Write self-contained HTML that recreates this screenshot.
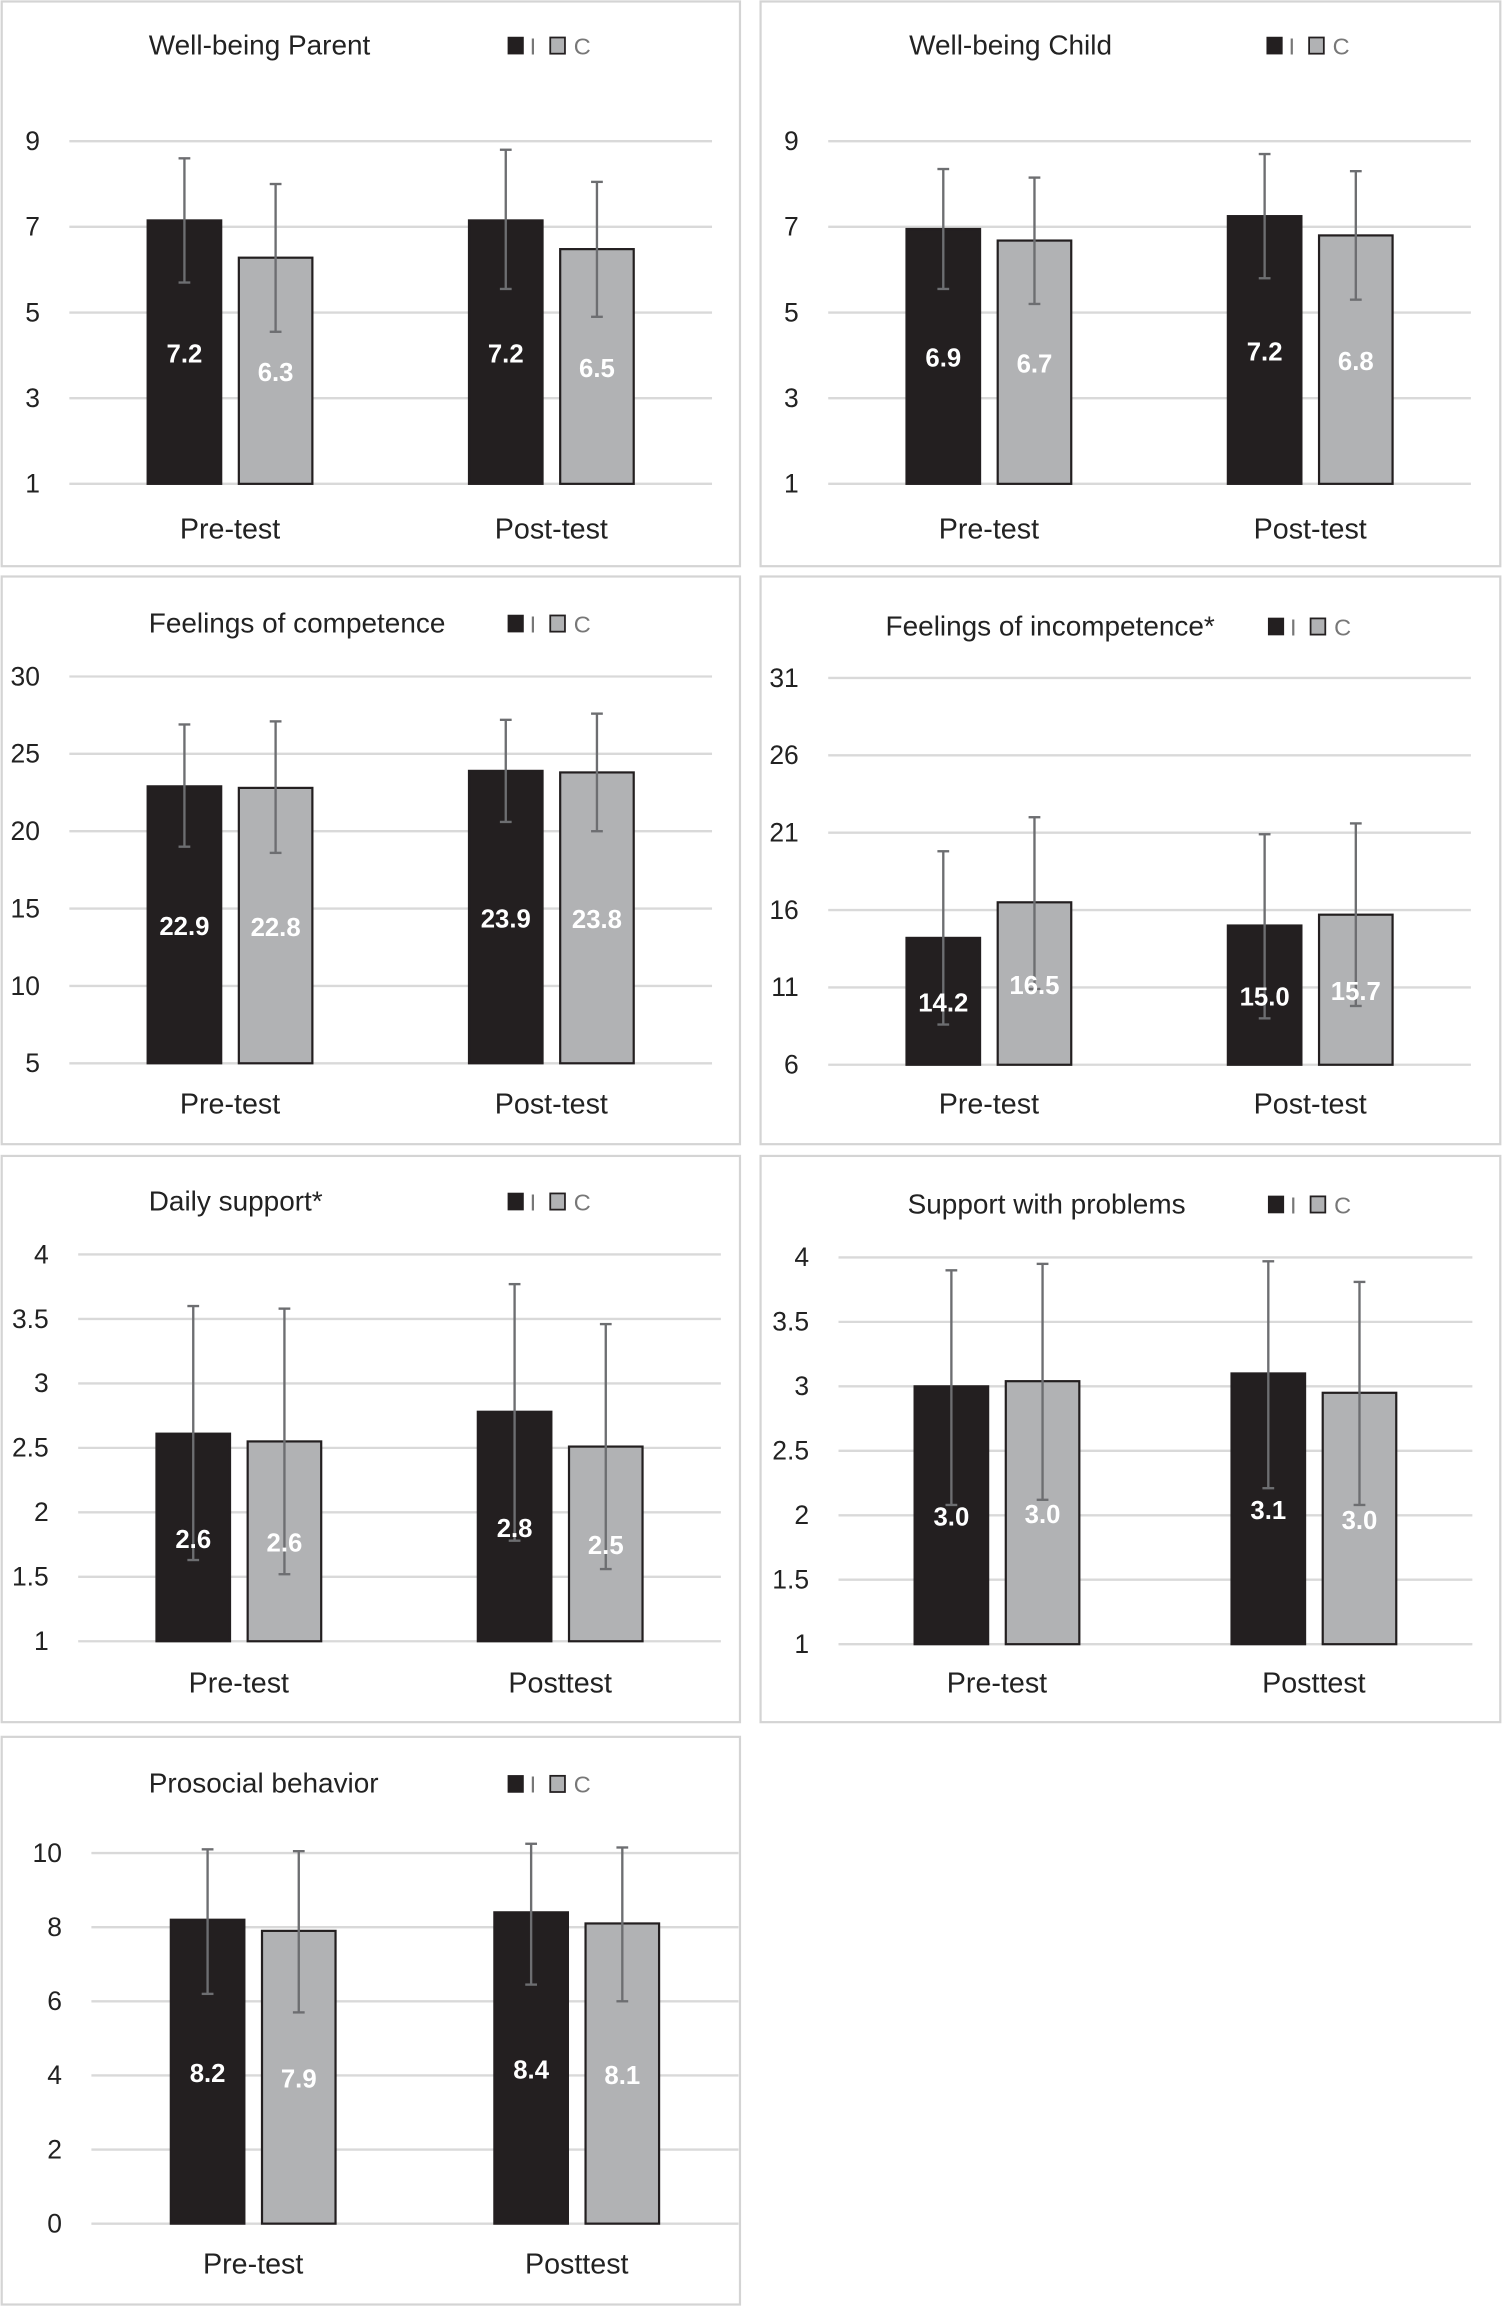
<!DOCTYPE html>
<html><head><meta charset="utf-8"><style>
html,body{margin:0;padding:0;background:#fff;}
svg{display:block;font-family:"Liberation Sans",Arial,sans-serif;}
</style></head><body>
<svg id="fig" width="1502" height="2306" viewBox="0 0 1021 1568" xmlns="http://www.w3.org/2000/svg"></svg>
<script>
const titles=["Well-being Parent","Well-being Child","Feelings of competence","Feelings of incompetence*","Daily support*","Support with problems","Prosocial behavior"];
const categories=[["Pre-test","Post-test"],["Pre-test","Post-test"],["Pre-test","Post-test"],["Pre-test","Post-test"],["Pre-test","Posttest"],["Pre-test","Posttest"],["Pre-test","Posttest"]];
const ticks=[[1,3,5,7,9],[1,3,5,7,9],[5,10,15,20,25,30],[6,11,16,21,26,31],[1,1.5,2,2.5,3,3.5,4],[1,1.5,2,2.5,3,3.5,4],[0,2,4,6,8,10]];
const valuesI=[[7.15,7.15],[6.95,7.25],[22.9,23.9],[14.2,15.0],[2.61,2.78],[3.0,3.1],[8.2,8.4]];
const valuesC=[[6.28,6.48],[6.68,6.8],[22.8,23.8],[16.5,15.7],[2.55,2.51],[3.04,2.95],[7.9,8.1]];
const labelsI=[["7.2","7.2"],["6.9","7.2"],["22.9","23.9"],["14.2","15.0"],["2.6","2.8"],["3.0","3.1"],["8.2","8.4"]];
const labelsC=[["6.3","6.5"],["6.7","6.8"],["22.8","23.8"],["16.5","15.7"],["2.6","2.5"],["3.0","3.0"],["7.9","8.1"]];
const errHiI=[[8.6,8.8],[8.35,8.7],[26.9,27.2],[19.8,20.9],[3.6,3.77],[3.9,3.97],[10.1,10.25]];
const errLoI=[[5.7,5.55],[5.55,5.8],[19.0,20.6],[8.6,9.0],[1.63,1.78],[2.08,2.21],[6.2,6.45]];
const errHiC=[[8.0,8.05],[8.15,8.3],[27.1,27.6],[22.0,21.6],[3.58,3.46],[3.95,3.81],[10.05,10.15]];
const errLoC=[[4.55,4.9],[5.2,5.3],[18.6,20.0],[10.9,9.8],[1.52,1.56],[2.12,2.08],[5.7,6.0]];

const L=[
 {px:1,py:1,pw:502,ph:384,gx0:47,gx1:484,gyT:96,gyB:329,ty:31,tx:101,lx:345},
 {px:517,py:1,pw:503,ph:384,gx0:563,gx1:1000,gyT:96,gyB:329,ty:31,tx:618,lx:861},
 {px:1,py:392,pw:502,ph:386,gx0:47,gx1:484,gyT:460,gyB:723,ty:424,tx:101,lx:345},
 {px:517,py:392,pw:503,ph:386,gx0:563,gx1:1000,gyT:461,gyB:724,ty:426,tx:602,lx:862},
 {px:1,py:786,pw:502,ph:385,gx0:53,gx1:490,gyT:853,gyB:1116,ty:817,tx:101,lx:345},
 {px:517,py:786,pw:503,ph:385,gx0:570,gx1:1001,gyT:855,gyB:1118,ty:819,tx:617,lx:862},
 {px:1,py:1181,pw:502,ph:386,gx0:62,gx1:502,gyT:1260,gyB:1512,ty:1213,tx:101,lx:345}
];
const NS="http://www.w3.org/2000/svg";
const svg=document.getElementById('fig');
function mk(tag,attrs,parent){const e=document.createElementNS(NS,tag);for(const k in attrs)e.setAttribute(k,attrs[k]);parent.appendChild(e);return e;}

titles.forEach((t,i)=>{
 const l=L[i];
 const g=mk('g',{},svg);
 
 
 const border=mk('rect',{x:l.px,y:l.py,width:l.pw,height:l.ph,fill:'#fff',stroke:'#d4d4d4','stroke-width':1.5},g);
 
 
 const tk=ticks[i];const vmin=tk[0],vmax=tk[tk.length-1];
 const y=v=>l.gyB-(v-vmin)/(vmax-vmin)*(l.gyB-l.gyT);
 const band=(l.gx1-l.gx0)/2;
 const cx=k=>l.gx0+band*(k+0.5);
 tk.forEach(v=>{
  const gl=mk('line',{x1:l.gx0,x2:l.gx1,y1:y(v),y2:y(v),stroke:'#d9d9d9','stroke-width':1.6},g);
  
  
  const tl=mk('text',{x:l.gx0-20,y:y(v)+6,'text-anchor':'end','font-size':18,fill:'#222'},g);
  
  
  tl.textContent=String(v);
 });
 const tt=mk('text',{x:l.tx,y:l.ty+6,'font-size':19,fill:'#222'},g);
 
 
 tt.textContent=t;
 const lgI=mk('rect',{x:l.lx,y:l.ty-6,width:11,height:12,fill:'#231f20'},g);
 
 
 const lgIt=mk('text',{x:l.lx+15,y:l.ty+6,'font-size':16,fill:'#777'},g);
 
 
 lgIt.textContent='I';
 const lgC=mk('rect',{x:l.lx+29,y:l.ty-5.5,width:10,height:11,fill:'#b1b2b4',stroke:'#231f20','stroke-width':1.2},g);
 
 
 const lgCt=mk('text',{x:l.lx+45,y:l.ty+6,'font-size':16,fill:'#777'},g);
 
 
 lgCt.textContent='C';
 for(let k=0;k<2;k++){
  const c=cx(k);
  const series=[
   {x:c-56,v:valuesI[i][k],lab:labelsI[i][k],hi:errHiI[i][k],lo:errLoI[i][k],fill:'#231f20',name:'i'},
   {x:c+6,v:valuesC[i][k],lab:labelsC[i][k],hi:errHiC[i][k],lo:errLoC[i][k],fill:'#b1b2b4',name:'c'}
  ];
  series.forEach(s=>{
   const yt=y(s.v),yb=y(vmin);
   const b=mk('rect',{x:s.x,y:yt,width:50,height:yb-yt,fill:s.fill,stroke:'#231f20','stroke-width':1.5},g);
   
   
   const ex=s.x+25;
   const eg=mk('g',{stroke:'#6d6e71','stroke-width':1.6},g);
   
   
   mk('line',{x1:ex,x2:ex,y1:y(s.hi),y2:y(s.lo)},eg);
   mk('line',{x1:ex-4,x2:ex+4,y1:y(s.hi),y2:y(s.hi)},eg);
   mk('line',{x1:ex-4,x2:ex+4,y1:y(s.lo),y2:y(s.lo)},eg);
   const dl=mk('text',{x:ex,y:(yt+yb)/2+7,'text-anchor':'middle','font-size':17.5,'font-weight':'bold',fill:'#fff'},g);
   
   
   dl.textContent=s.lab;
  });
  const cl=mk('text',{x:c,y:l.py+365,'text-anchor':'middle','font-size':19.5,fill:'#222'},g);
  
  
  cl.textContent=categories[i][k];
 }
});
</script>
</body></html>
